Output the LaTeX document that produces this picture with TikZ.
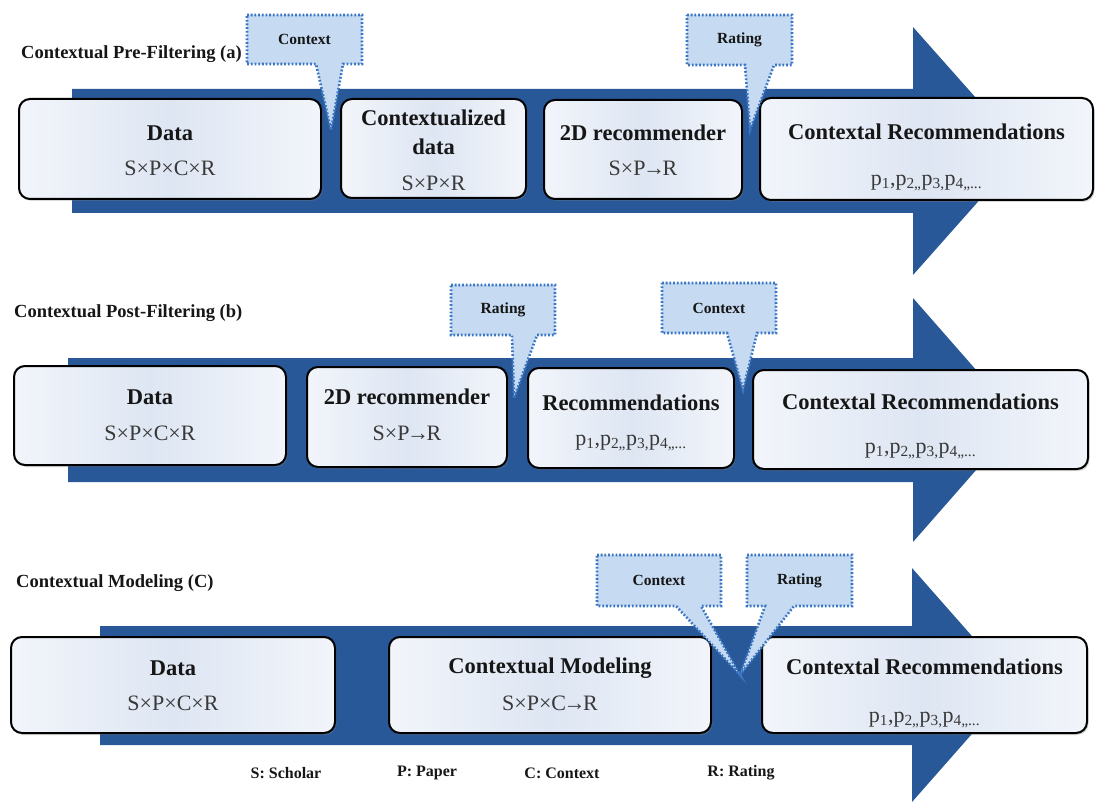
\documentclass[tikz,border=0pt]{standalone}
\usepackage{fontspec}
\setmainfont{Liberation Serif}
\usetikzlibrary{shadows}

\definecolor{bandblue}{RGB}{40,88,152}
\definecolor{boxfill}{RGB}{222,230,243}
\definecolor{calloutfill}{RGB}{198,219,242}
\definecolor{calloutline}{RGB}{58,118,196}
\definecolor{inkdark}{RGB}{22,22,22}

\tikzset{
  band/.style={fill=bandblue},
  stage/.style={draw=black, line width=2pt, rounded corners=11pt,
    left color=white!60!boxfill, right color=white!60!boxfill, middle color=boxfill,
    drop shadow={shadow xshift=1.5pt, shadow yshift=-2pt, opacity=0.3},
    inner sep=0pt, outer sep=0pt},
  ttl/.style={font=\fontsize{22.5}{24}\selectfont\bfseries, text=inkdark, inner sep=0pt},
  sub/.style={font=\fontsize{22}{24}\selectfont, text=inkdark!85, inner sep=0pt},
  heading/.style={font=\fontsize{18.5}{22}\selectfont\bfseries, text=inkdark, anchor=west, inner sep=0pt},
  callout/.style={fill=calloutfill, draw=calloutline, line width=2.6pt,
    dash pattern=on 1.8pt off 1.9pt},
  calltext/.style={font=\fontsize{15.5}{18}\selectfont\bfseries, text=inkdark, inner sep=0pt},
  legend/.style={font=\fontsize{16}{18}\selectfont\bfseries, text=inkdark, inner sep=0pt}
}

% speech bubble: name, text, x1, y1, x2, y2, pointer base left, base right, tip coordinate
\newcommand{\speechbubble}[9]{%
  \draw[callout] (#3,#4) -- (#5,#4) -- (#5,#6) -- (#8,#6) -- (#9) -- (#7,#6) -- (#3,#6) -- cycle;
  \node[calltext] (#1) at ({(#3+#5)/2},{(#4+#6)/2}) {#2};}

\newcommand{\plist}{p\textsubscript{1},p\textsubscript{2,,}p\textsubscript{3,}p\textsubscript{4,,...}}
\newcommand{\tightarrow}{\kern-2.5pt→\kern-2.5pt}

\begin{document}
\begin{tikzpicture}[x=1pt, y=-1pt]
\useasboundingbox (0,0) rectangle (1101,805);

% ---------- (a) contextual pre-filtering ----------
\fill[band] (72,89) -- (913,89) -- (913,27) -- (1023,151) -- (913,275) -- (913,213) -- (72,213) -- cycle;
\node[heading] (headA) at (21,54) {Contextual Pre-Filtering (a)};

\node[stage, minimum width=302, minimum height=100] (dataA) at (170,149) {};
\node[stage, minimum width=185, minimum height=99] (ctxdataA) at (433.5,148.5) {};
\node[stage, minimum width=198, minimum height=99] (recA) at (643,149.5) {};
\node[stage, minimum width=333, minimum height=102] (finalA) at (926.5,149) {};

\node[ttl] (dataA-t) at (170,133) {Data};
\node[sub] (dataA-s) at (170,168) {S×P×C×R};
\node[ttl] (ctxdataA-t1) at (433.5,118) {Contextualized};
\node[ttl] (ctxdataA-t2) at (433.5,147) {data};
\node[sub] (ctxdataA-s) at (433.5,183) {S×P×R};
\node[ttl] (recA-t) at (643,133) {2D recommender};
\node[sub] (recA-s) at (643,168) {S×P\tightarrow R};
\node[ttl] (finalA-t) at (926.5,132) {Contextal Recommendations};
\node[sub] (finalA-s) at (926.5,183) {\plist};

\coordinate (ctxA-tip) at (331,130);
\coordinate (ratA-tip) at (750,130);
\speechbubble{ctxA}{Context}{247}{15}{362}{64}{316}{343}{ctxA-tip}
\speechbubble{ratA}{Rating}{687}{15}{792}{65}{745}{774}{ratA-tip}

% ---------- (b) contextual post-filtering ----------
\fill[band] (68,358) -- (913,358) -- (913,298) -- (1020,420) -- (913,542) -- (913,482) -- (68,482) -- cycle;
\node[heading] (headB) at (14,313) {Contextual Post-Filtering (b)};

\node[stage, minimum width=272, minimum height=99] (dataB) at (150,415.5) {};
\node[stage, minimum width=200, minimum height=100] (recB) at (407,417) {};
\node[stage, minimum width=206, minimum height=100] (listB) at (631,418) {};
\node[stage, minimum width=335, minimum height=99] (finalB) at (920.5,419.5) {};

\node[ttl] (dataB-t) at (150,397) {Data};
\node[sub] (dataB-s) at (150,433) {S×P×C×R};
\node[ttl] (recB-t) at (407,397) {2D recommender};
\node[sub] (recB-s) at (407,433) {S×P\tightarrow R};
\node[ttl] (listB-t) at (631,403) {Recommendations};
\node[sub] (listB-s) at (631,443) {\plist};
\node[ttl] (finalB-t) at (920.5,402) {Contextal Recommendations};
\node[sub] (finalB-s) at (920.5,451) {\plist};

\coordinate (ratB-tip) at (514,398);
\coordinate (ctxB-tip) at (743,390);
\speechbubble{ratB}{Rating}{451}{285}{555}{335}{512}{537}{ratB-tip}
\speechbubble{ctxB}{Context}{662}{283}{776}{333}{727}{757}{ctxB-tip}

% ---------- (c) contextual modeling ----------
\fill[band] (100,626) -- (912,626) -- (912,568) -- (1015,685) -- (912,802) -- (912,745) -- (100,745) -- cycle;
\node[heading] (headC) at (16,583) {Contextual Modeling (C)};

\node[stage, minimum width=324, minimum height=96] (dataC) at (173,685) {};
\node[stage, minimum width=322, minimum height=96] (modelC) at (550,685) {};
\node[stage, minimum width=325, minimum height=96] (finalC) at (924.5,685) {};

\node[ttl] (dataC-t) at (173,668) {Data};
\node[sub] (dataC-s) at (173,703) {S×P×C×R};
\node[ttl] (modelC-t) at (550,668) {Contextual Modeling};
\node[sub] (modelC-s) at (550,703) {S×P×C\tightarrow R};
\node[ttl] (finalC-t) at (924.5,667) {Contextal Recommendations};
\node[sub] (finalC-s) at (924.5,720) {\plist};

\coordinate (ctxC-tip) at (740,675);
\speechbubble{ctxC}{Context}{597}{555}{721}{606}{676}{701}{ctxC-tip}
\speechbubble{ratC}{Rating}{747}{555}{852}{606}{765}{794}{ctxC-tip}

% ---------- legend ----------
\node[legend] (legS) at (286,773) {S: Scholar};
\node[legend] (legP) at (427,773) {P: Paper};
\node[legend] (legC) at (562,773) {C: Context};
\node[legend] (legR) at (741,773) {R: Rating};
\end{tikzpicture}
\end{document}
